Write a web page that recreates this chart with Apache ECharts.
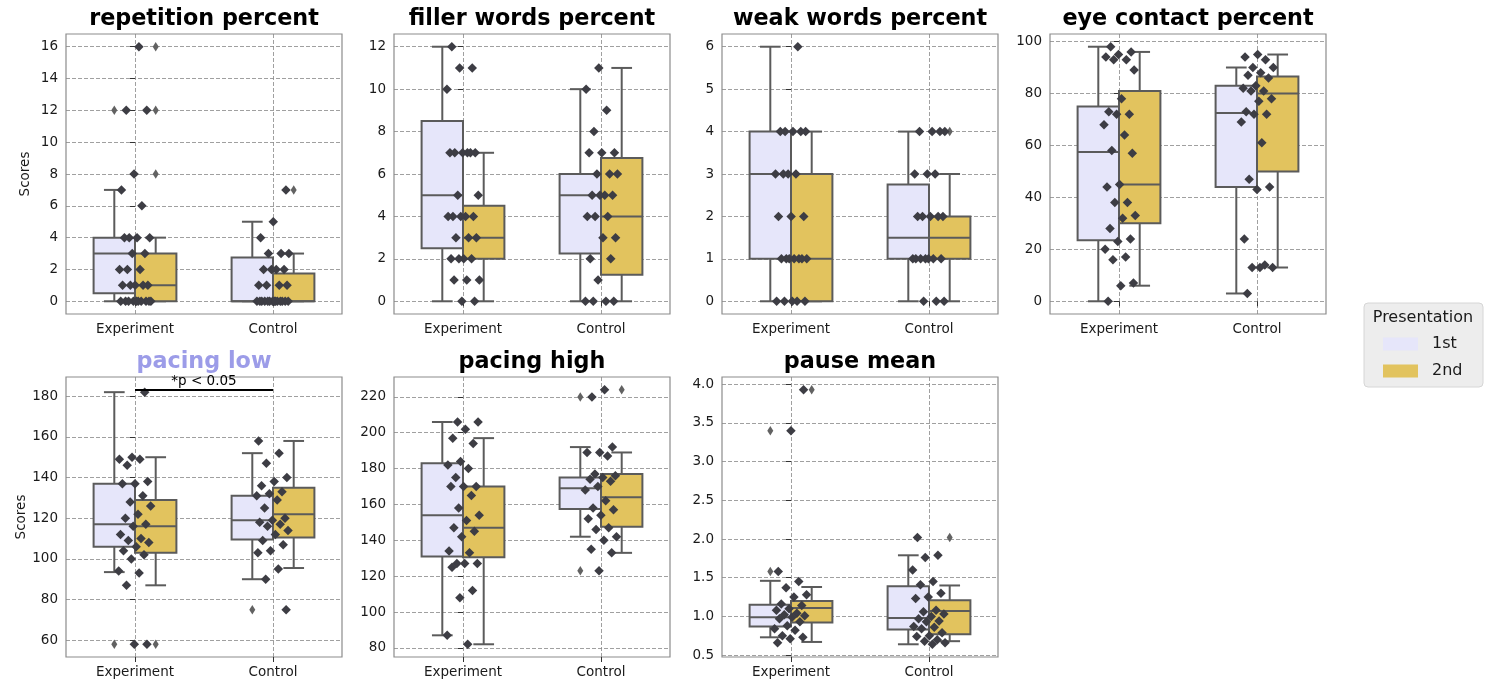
<!DOCTYPE html>
<html lang="en">
<head>
<meta charset="UTF-8">
<title>Presentation scores</title>
<script src="https://cdn.jsdelivr.net/npm/echarts@6/dist/echarts.min.js"></script>
<style>
  html, body { margin: 0; padding: 0; background: #fff; }
  #main { width: 1500px; height: 690px; }
</style>
</head>
<body>
<div id="main"></div>
<script>
// categories and hues
const categories = ['Experiment', 'Control'];
const hues = ['1st', '2nd'];

// box stats per panel: [Exp 1st, Exp 2nd, Ctl 1st, Ctl 2nd], each [low whisker, q1, median, q3, high whisker]
const repetitionBox = [[0, 0.5, 3, 4, 7], [0, 0, 1, 3, 4], [0, 0, 0, 2.75, 5], [0, 0, 0, 1.75, 3]];
const repetitionFliers = [[12], [16, 12, 8], [], [7]];
const repetitionPoints = [
  [16, 12, 12, 8, 7, 6, 4, 4, 4, 4, 3, 3, 2, 2, 2, 1, 1, 1, 1, 1, 0, 0, 0, 0, 0, 0, 0, 0, 0, 0],
  [7, 5, 4, 3, 3, 3, 2, 2, 2, 2, 1, 1, 1, 1, 0, 0, 0, 0, 0, 0, 0, 0, 0, 0, 0, 0, 0, 0]
];

const fillerBox = [[0, 2.5, 5, 8.5, 12], [0, 2, 3, 4.5, 7], [0, 2.25, 5, 6, 10], [0, 1.25, 4, 6.75, 11]];
const fillerFliers = [[], [], [], []];
const fillerPoints = [
  [12, 11, 11, 10, 7, 7, 7, 7, 7, 7, 5, 5, 4, 4, 4, 4, 4, 3, 3, 3, 2, 2, 2, 2, 1, 1, 1, 0, 0],
  [11, 10, 9, 8, 7, 7, 7, 6, 6, 6, 5, 5, 5, 5, 4, 4, 4, 3, 3, 2, 2, 1, 0, 0, 0, 0]
];

const weakBox = [[0, 1, 3, 4, 6], [0, 0, 1, 3, 4], [0, 1, 1.5, 2.75, 4], [0, 1, 1.5, 2, 3]];
const weakFliers = [[], [], [], [4]];
const weakPoints = [
  [6, 4, 4, 4, 4, 4, 3, 3, 3, 3, 2, 2, 2, 1, 1, 1, 1, 1, 1, 1, 0, 0, 0, 0, 0],
  [4, 4, 4, 4, 3, 3, 3, 2, 2, 2, 2, 2, 1, 1, 1, 1, 1, 1, 1, 0, 0, 0]
];

const eyeBox = [[0, 23.5, 57.5, 75, 98], [6, 30, 45, 81, 96], [3, 44, 72.5, 83, 90], [13, 50, 80, 86.5, 95]];
const eyeFliers = [[], [], [], []];
const eyePoints = [
  [98, 96, 95, 94, 93, 93, 89, 78, 73, 72, 72, 68, 64, 58, 57, 45, 44, 38, 38, 33, 32, 28, 24, 23, 20, 17, 16, 7, 6, 0],
  [95, 94, 93, 90, 90, 88, 87, 86, 83, 82, 81, 81, 78, 77, 73, 72, 72, 69, 61, 47, 44, 43, 24, 14, 13, 13, 13, 3]
];

const paceLowBox = [[93.5, 106, 117, 137, 182], [87, 103, 116, 129, 150], [90, 109.5, 119, 131, 152], [95.5, 110.5, 122, 135, 158]];
const paceLowFliers = [[58], [58], [75], []];
const paceLowPoints = [
  [182, 150, 149, 149, 146, 138, 137, 137, 131, 128, 126, 122, 120, 117, 116, 112, 110, 109, 108, 106, 104, 102, 100, 94, 93, 87, 58, 58],
  [158, 152, 147, 140, 138, 136, 133, 132, 131, 129, 125, 120, 119, 118, 117, 116, 114, 112, 109, 107, 104, 103, 95, 90, 75]
];
const paceLowSig = { from: 0, to: 1, y: 183.2, text: '*p < 0.05' };

const paceHighBox = [[87, 131, 154, 183, 206], [82, 130.5, 147, 170, 197], [142, 157.5, 169, 175, 192], [133, 147.5, 164, 177, 189]];
const paceHighFliers = [[], [], [123, 220], [224]];
const paceHighPoints = [
  [206, 206, 202, 197, 194, 184, 182, 180, 175, 170, 170, 170, 165, 158, 154, 151, 147, 145, 142, 134, 133, 127, 127, 127, 125, 112, 108, 87, 82],
  [224, 220, 192, 189, 189, 187, 177, 176, 175, 174, 173, 170, 168, 162, 158, 157, 154, 152, 147, 146, 142, 140, 135, 133, 123]
];

const pauseBox = [[0.73, 0.87, 0.99, 1.15, 1.46], [0.67, 0.92, 1.11, 1.2, 1.38], [0.64, 0.83, 0.98, 1.39, 1.79], [0.68, 0.77, 1.07, 1.21, 1.40]];
const pauseFliers = [[1.58, 3.40], [3.93], [], [2.02]];
const pausePoints = [
  [3.93, 3.40, 1.58, 1.45, 1.37, 1.28, 1.25, 1.16, 1.14, 1.10, 1.08, 1.04, 1.02, 1.01, 0.99, 0.97, 0.93, 0.88, 0.84, 0.82, 0.75, 0.73, 0.71, 0.66],
  [2.02, 1.79, 1.76, 1.60, 1.45, 1.41, 1.30, 1.25, 1.23, 1.08, 1.06, 1.03, 1.00, 0.97, 0.94, 0.93, 0.87, 0.86, 0.84, 0.79, 0.75, 0.74, 0.70, 0.68, 0.66, 0.64]
];

const panels = [
  { title: 'repetition percent', box: repetitionBox, fliers: repetitionFliers, points: repetitionPoints, step: 2, dec: 0 },
  { title: 'filler words percent', box: fillerBox, fliers: fillerFliers, points: fillerPoints, step: 2, dec: 0 },
  { title: 'weak words percent', box: weakBox, fliers: weakFliers, points: weakPoints, step: 1, dec: 0 },
  { title: 'eye contact percent', box: eyeBox, fliers: eyeFliers, points: eyePoints, step: 20, dec: 0 },
  { title: 'pacing low', box: paceLowBox, fliers: paceLowFliers, points: paceLowPoints, step: 20, dec: 0, sig: paceLowSig },
  { title: 'pacing high', box: paceHighBox, fliers: paceHighFliers, points: paceHighPoints, step: 20, dec: 0 },
  { title: 'pause mean', box: pauseBox, fliers: pauseFliers, points: pausePoints, step: 0.5, dec: 1 }
];

// look
const FONT = 'DejaVu Sans';
const HUE_COLORS = ['#e6e6fa', '#e2c35e'];
const EDGE = '#5b5b5b';
const BOX_W = 0.3;
const HUE_OFF = [-0.15, 0.15];
const COL_LEFT = [66, 394, 722, 1050];
const ROW_TOP = [34, 377];
const GRID_W = 276, GRID_H = 280;

function jitter(i, seed) {
  const f = ((i + 1) * 0.6180339887 + seed * 0.2718) % 1;
  return (f - 0.5) * 0.24;
}

function renderBox(params, api) {
  const x = api.value(0);
  const lo = api.value(1), q1 = api.value(2), md = api.value(3), q3 = api.value(4), hi = api.value(5);
  const hw = BOX_W / 2, cw = BOX_W / 4;
  const c = (xx, yy) => api.coord([xx, yy]);
  const line = (a, b) => ({
    type: 'line',
    shape: { x1: a[0], y1: a[1], x2: b[0], y2: b[1] },
    style: { stroke: EDGE, lineWidth: 2 }
  });
  const tl = c(x - hw, q3), br = c(x + hw, q1);
  return {
    type: 'group',
    children: [
      line(c(x, lo), c(x, q1)),
      line(c(x, q3), c(x, hi)),
      line(c(x - cw, lo), c(x + cw, lo)),
      line(c(x - cw, hi), c(x + cw, hi)),
      {
        type: 'rect',
        shape: { x: tl[0], y: tl[1], width: br[0] - tl[0], height: br[1] - tl[1] },
        style: { fill: api.visual('color'), stroke: EDGE, lineWidth: 2 }
      },
      line(c(x - hw, md), c(x + hw, md))
    ]
  };
}

const grids = [], xAxes = [], yAxes = [], series = [], graphics = [];

panels.forEach((p, gi) => {
  const col = gi % 4, row = Math.floor(gi / 4);
  grids.push({
    left: COL_LEFT[col], top: ROW_TOP[row], width: GRID_W, height: GRID_H,
    show: true, borderColor: '#8c8c8c', borderWidth: 1.2, backgroundColor: 'transparent'
  });

  // y extent like matplotlib autoscale: data range plus 5% margin
  const all = [].concat(...p.points, ...p.box, ...p.fliers);
  if (p.sig) all.push(p.sig.y);
  const dmin = Math.min(...all), dmax = Math.max(...all);
  const pad = (dmax - dmin) * 0.05;
  const ymin = dmin - pad, ymax = dmax + pad;
  const yTicks = [];
  for (let v = Math.ceil(ymin / p.step) * p.step; v <= ymax + 1e-9; v += p.step) {
    yTicks.push(+v.toFixed(4));
  }

  xAxes.push({
    gridIndex: gi, type: 'value', min: -0.5, max: 1.5, minInterval: 1, maxInterval: 1,
    axisLine: { show: false },
    axisTick: { show: true, customValues: [0, 1], length: 5, lineStyle: { color: '#333', width: 1 } },
    axisLabel: {
      customValues: [0, 1], margin: 8, fontSize: 13.5, color: '#1a1a1a', fontFamily: FONT,
      formatter: v => categories[Math.round(v)] || ''
    },
    splitLine: { show: true, lineStyle: { color: '#888', width: 0.8, type: [4, 2] } }
  });
  yAxes.push({
    gridIndex: gi, type: 'value', min: ymin, max: ymax, minInterval: p.step, maxInterval: p.step,
    name: col === 0 ? 'Scores' : '', nameLocation: 'middle', nameGap: 34,
    nameTextStyle: { fontSize: 13.5, color: '#1a1a1a', fontFamily: FONT },
    axisLine: { show: false },
    axisTick: { show: true, customValues: yTicks, length: 5, lineStyle: { color: '#333', width: 1 } },
    axisLabel: {
      customValues: yTicks, margin: 8, fontSize: 13.5, color: '#1a1a1a', fontFamily: FONT,
      formatter: v => Number(v).toFixed(p.dec)
    },
    splitLine: { show: true, lineStyle: { color: '#888', width: 0.8, type: [4, 2] } }
  });

  // boxes, one custom series per hue
  hues.forEach((h, hi) => {
    const data = categories.map((c, ci) => [ci + HUE_OFF[hi]].concat(p.box[ci * 2 + hi]));
    series.push({
      type: 'custom', name: h, xAxisIndex: gi, yAxisIndex: gi, z: 2,
      itemStyle: { color: HUE_COLORS[hi] },
      renderItem: renderBox,
      encode: { x: 0, y: [1, 2, 3, 4, 5] },
      data: data
    });
  });

  // fliers drawn at their box centre
  const flierData = [];
  p.fliers.forEach((arr, bi) => {
    const ci = Math.floor(bi / 2), hi = bi % 2;
    arr.forEach(v => flierData.push([ci + HUE_OFF[hi], v]));
  });
  series.push({
    type: 'scatter', xAxisIndex: gi, yAxisIndex: gi, z: 3, silent: true,
    symbol: 'diamond', symbolSize: [6, 9.5],
    itemStyle: { color: '#626262', opacity: 1 },
    data: flierData
  });

  // strip points, jittered around the category centre
  const stripData = [];
  p.points.forEach((arr, ci) => {
    arr.forEach((v, i) => stripData.push([ci + jitter(i, gi * 2 + ci), v]));
  });
  const strip = {
    type: 'scatter', xAxisIndex: gi, yAxisIndex: gi, z: 4, silent: true,
    symbol: 'diamond', symbolSize: 9.5,
    itemStyle: { color: '#3d3d44', opacity: 1 },
    data: stripData
  };
  if (p.sig) {
    strip.markLine = {
      silent: true, symbol: 'none', animation: false,
      lineStyle: { color: '#000', width: 2, type: 'solid' },
      label: { show: true, position: 'middle', formatter: p.sig.text, color: '#000', fontSize: 13.5, fontFamily: FONT, distance: 1 },
      data: [[{ coord: [p.sig.from, p.sig.y] }, { coord: [p.sig.to, p.sig.y] }]]
    };
  }
  series.push(strip);

  graphics.push({
    type: 'text', silent: true,
    x: COL_LEFT[col] + GRID_W / 2, y: ROW_TOP[row] - 15,
    style: {
      text: p.title, font: 'bold 22.3px "' + FONT + '"',
      fill: p.sig ? '#9c9ce8' : '#000', align: 'center', verticalAlign: 'middle'
    }
  });
});

// legend box and title
graphics.push({
  type: 'rect', silent: true, z: -1,
  shape: { x: 1364, y: 303, width: 119, height: 84, r: 4 },
  style: { fill: '#ededed', stroke: '#d6d6d6', lineWidth: 1 }
});
graphics.push({
  type: 'text', silent: true,
  x: 1423, y: 318,
  style: { text: 'Presentation', font: '16px "' + FONT + '"', fill: '#1a1a1a', align: 'center', verticalAlign: 'middle' }
});

const chart = echarts.init(document.getElementById('main'));
chart.setOption({
  animation: false,
  backgroundColor: '#fff',
  textStyle: { fontFamily: FONT },
  grid: grids,
  xAxis: xAxes,
  yAxis: yAxes,
  legend: {
    orient: 'vertical', left: 1383, top: 336, itemWidth: 35, itemHeight: 13, itemGap: 11,
    selectedMode: false, padding: 0,
    itemStyle: { borderWidth: 0 },
    textStyle: { fontSize: 16, color: '#1a1a1a', fontFamily: FONT, padding: [0, 0, 0, 9] },
    data: hues.map(h => ({ name: h, icon: 'rect' }))
  },
  graphic: graphics,
  series: series
});
</script>
</body>
</html>
